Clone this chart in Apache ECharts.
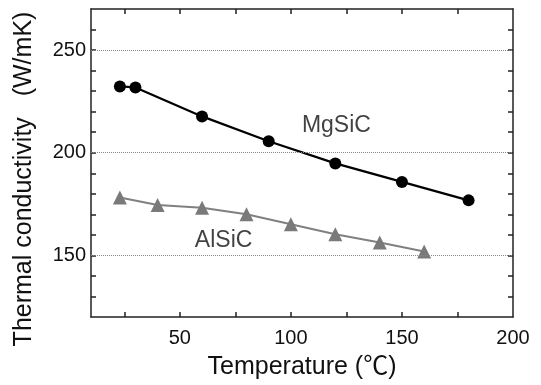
<!DOCTYPE html>
<html>
<head>
<meta charset="utf-8">
<script src="https://cdn.jsdelivr.net/npm/echarts@6/dist/echarts.min.js"></script>
<style>
  html, body { margin: 0; padding: 0; background: #fff; }
  #chart { width: 541px; height: 385px; }
</style>
</head>
<body>
<div id="chart"></div>
<script>
const mgTemp = [23, 30, 60, 90, 120, 150, 180];
const mgCond = [232.3, 231.8, 217.7, 205.6, 194.8, 185.8, 176.8];
const alTemp = [23, 40, 60, 80, 100, 120, 140, 160];
const alCond = [178.2, 174.5, 173.2, 170.0, 165.2, 160.3, 156.3, 151.9];

const xTicks = [25, 50, 75, 100, 125, 150, 175];
const xLabels = [50, 100, 150, 200];
const yTicks = [130, 140, 150, 160, 170, 180, 190, 200, 210, 220, 230, 240, 250, 260];
const yLabels = [150, 200, 250];
const gridValues = [150, 200, 250];

const font = '"Liberation Sans", "Noto Sans CJK JP", sans-serif';
const chart = echarts.init(document.getElementById('chart'));

function pairs(xs, ys) {
  return xs.map((x, i) => [x, ys[i]]);
}

const frame = { show: true, onZero: false, lineStyle: { color: '#222', width: 1.5 } };

chart.setOption({
  animation: false,
  grid: { left: 91, right: 28, top: 9, bottom: 66 },
  xAxis: [{
    type: 'value', min: 10, max: 200,
    name: 'Temperature (℃)', nameLocation: 'middle', nameGap: 38,
    nameTextStyle: { fontFamily: font, fontSize: 25, color: '#111' },
    axisLine: frame,
    axisTick: { inside: true, length: 5, customValues: xTicks, lineStyle: { color: '#222', width: 1.5 } },
    axisLabel: { customValues: xLabels, margin: 11, fontFamily: font, fontSize: 20, color: '#111' },
    splitLine: { show: false }
  }, {
    type: 'value', min: 10, max: 200, position: 'top',
    axisLine: frame,
    axisTick: { inside: true, length: 5, customValues: xTicks, lineStyle: { color: '#222', width: 1.5 } },
    axisLabel: { show: false },
    splitLine: { show: false }
  }],
  yAxis: [{
    type: 'value', min: 120, max: 270,
    name: 'Thermal conductivity   (W/mK)', nameLocation: 'middle', nameGap: 54,
    nameTextStyle: { fontFamily: font, fontSize: 25, color: '#111', padding: [0, 32, 0, 0] },
    axisLine: frame,
    axisTick: { inside: true, length: 5, customValues: yTicks, lineStyle: { color: '#222', width: 1.5 } },
    axisLabel: { customValues: yLabels, margin: 5, fontFamily: font, fontSize: 20, color: '#111' },
    splitLine: { show: false }
  }, {
    type: 'value', min: 120, max: 270, position: 'right',
    axisLine: frame,
    axisTick: { inside: true, length: 5, customValues: yTicks, lineStyle: { color: '#222', width: 1.5 } },
    axisLabel: { show: false },
    splitLine: { show: false }
  }],
  series: [{
    name: 'MgSiC', type: 'line',
    data: pairs(mgTemp, mgCond),
    symbol: 'circle', symbolSize: 12,
    itemStyle: { color: '#000' },
    lineStyle: { color: '#000', width: 2.2 },
    markLine: {
      silent: true, symbol: 'none', label: { show: false },
      lineStyle: { type: 'dotted', color: '#888', width: 1 },
      data: gridValues.map(v => ({ yAxis: v }))
    },
    z: 3
  }, {
    name: 'AlSiC', type: 'line',
    data: pairs(alTemp, alCond),
    symbol: 'triangle', symbolSize: 14,
    itemStyle: { color: '#7a7a7a' },
    lineStyle: { color: '#808080', width: 2 },
    z: 2
  }, {
    type: 'scatter', symbolSize: 0, silent: true,
    data: [
      { value: [120.5, 213.2], label: { formatter: 'MgSiC' } },
      { value: [69.7, 157.1], label: { formatter: 'AlSiC' } }
    ],
    label: { show: true, position: 'inside', fontFamily: font, fontSize: 23, color: '#111' }
  }]
});
</script>
</body>
</html>
